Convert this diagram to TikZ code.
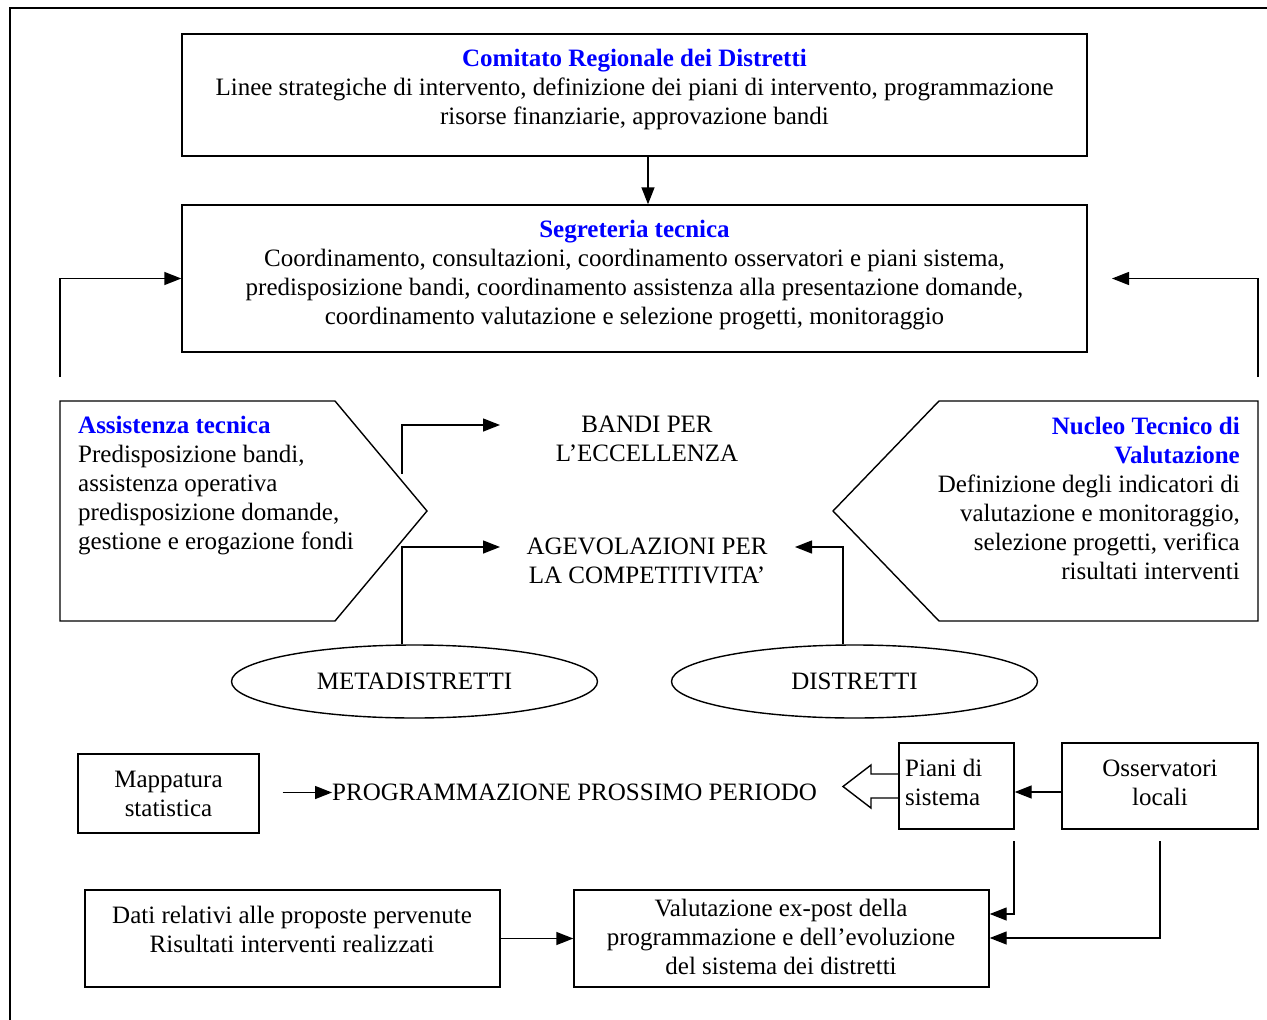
\documentclass[tikz,border=0pt]{standalone}
\usepackage{fontspec}
\setmainfont{Liberation Serif}
\usetikzlibrary{arrows.meta,shapes.geometric}
\newcommand\ttlx[1]{\textcolor{blue}{\bfseries #1}}
\begin{document}
\begin{tikzpicture}[x=1pt,y=-1pt,
  box/.style={draw, line width=1.4pt, inner sep=0pt},
  txt/.style={inner sep=0pt, font=\fontsize{25}{29}\selectfont},
  ln/.style={line width=1.4pt},
  arr/.style={-{Triangle[length=17pt,width=13pt]}, line width=1.4pt}]
\useasboundingbox (0,0) rectangle (1267,1020);
\fill[white] (0,0) rectangle (1267,1020);
% outer frame
\draw[line width=2pt] (10,1020) -- (10,8) -- (1267,8);

% Comitato
\node[box, minimum width=905, minimum height=122] (crd) at (634.5,95) {};
\node[txt, align=center] (crdt) at (634.5,89) {\ttlx{Comitato Regionale dei Distretti}\\Linee strategiche di intervento, definizione dei piani di intervento, programmazione\\risorse finanziarie, approvazione bandi};

% Segreteria
\node[box, minimum width=905, minimum height=147] (seg) at (634.5,278.5) {};
\node[txt, align=center] (segt) at (634.5,275.5) {\ttlx{Segreteria tecnica}\\Coordinamento, consultazioni, coordinamento osservatori e piani sistema,\\predisposizione bandi, coordinamento assistenza alla presentazione domande,\\coordinamento valutazione e selezione progetti, monitoraggio};

\draw[arr] ([xshift=13.5pt]crd.south) -- ([xshift=13.5pt]seg.north);

% feedback arrows
\coordinate (fbl) at (60,377);
\draw[arr] (fbl) |- (seg.west);
\coordinate (fbr) at (1258,377);
\coordinate (fbrt) at (1112,278.5);
\draw[arr] (fbr) |- (fbrt);

% Assistenza tecnica pentagon
\draw[ln] (60,401) -- (335,401) -- (427,511) -- (335,621) -- (60,621) -- cycle;
\node[txt, align=left, anchor=west] (asst) at (78,486) {\ttlx{Assistenza tecnica}\\Predisposizione bandi,\\assistenza operativa\\predisposizione domande,\\gestione e erogazione fondi};

% Nucleo tecnico pentagon
\draw[ln] (939,401) -- (1258,401) -- (1258,621) -- (939,621) -- (833,511) -- cycle;
\node[txt, align=right, anchor=east] (nuc) at (1240,498) {\ttlx{Nucleo Tecnico di}\\\ttlx{Valutazione}\\Definizione degli indicatori di\\valutazione e monitoraggio,\\selezione progetti, verifica\\risultati interventi};

% centre texts
\node[txt, align=center] (bandi) at (647,439) {BANDI PER\\L’ECCELLENZA};
\node[txt, align=center] (agev) at (647,561) {AGEVOLAZIONI PER\\LA COMPETITIVITA’};

% ellipses
\node[draw, ellipse, line width=1.4pt, minimum width=366, minimum height=73, txt] (meta) at (414.5,681.5) {METADISTRETTI};
\node[draw, ellipse, line width=1.4pt, minimum width=366, minimum height=73, txt] (dist) at (854.5,681.5) {DISTRETTI};

% arrows to centre texts
\coordinate (a1) at (402,474);
\coordinate (bandil) at (500,425);
\draw[arr] (a1) |- (bandil);
\coordinate (agevl) at (500,547);
\draw[arr] ([xshift=-12.5pt]meta.north) |- (agevl);
\coordinate (agevr) at (795,547);
\draw[arr] ([xshift=-11.5pt]dist.north) |- (agevr);

% Mappatura row
\node[box, txt, align=center, minimum width=181, minimum height=79] (map) at (168.5,793.5) {Mappatura\\statistica};
\node[txt, anchor=west] (prog) at (332,792.5) {PROGRAMMAZIONE PROSSIMO PERIODO};
\draw[arr] ([xshift=23pt]map.east |- prog.west) -- (prog.west);

\node[box, minimum width=115, minimum height=86] (pia) at (956.5,786) {};
\node[txt, align=left, anchor=west] (piat) at (905,782.5) {Piani di\\sistema};
\node[box, minimum width=196, minimum height=86] (oss) at (1160,786) {};
\node[txt, align=center] (osst) at (1160,782.5) {Osservatori\\locali};
\draw[arr] (oss.west |- 0,792) -- (pia.east |- 0,792);
% hollow arrow
\draw[ln, line join=miter] (pia.west |- 0,774) -- (871,774) -- (871,765) -- (843,786.5) -- (871,808) -- (871,798) -- (pia.west |- 0,798);

% bottom row
\node[box, minimum width=415, minimum height=97] (dati) at (292.5,938.5) {};
\node[txt, align=center] (datit) at (292,929.5) {Dati relativi alle proposte pervenute\\Risultati interventi realizzati};
\node[box, minimum width=415, minimum height=97] (val) at (781.5,938.5) {};
\node[txt, align=center] (valt) at (781,937) {Valutazione ex-post della\\programmazione e dell’evoluzione\\del sistema dei distretti};
\draw[arr] (dati.east) -- (val.west);
\coordinate (pd) at (1014,841);
\draw[arr] (pd) |- (val.east |- 0,914);
\coordinate (od) at (1160,841);
\draw[arr] (od) |- (val.east |- 0,938);
\end{tikzpicture}
\end{document}
